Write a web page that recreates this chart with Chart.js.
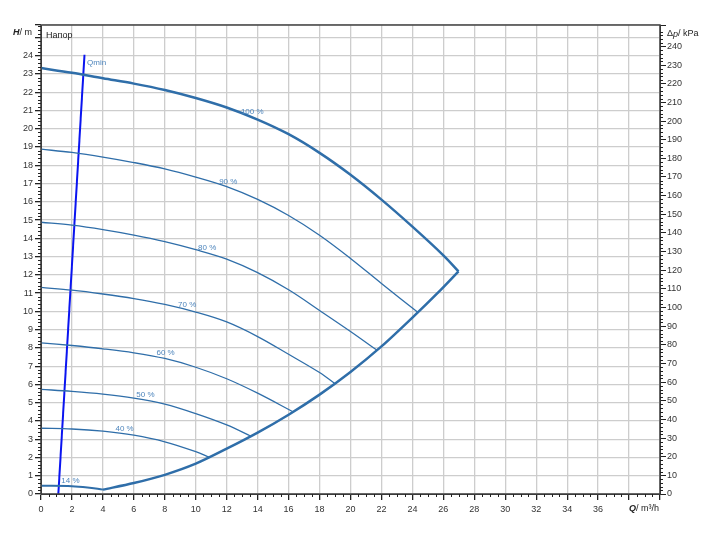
<!DOCTYPE html>
<html>
<head>
<meta charset="utf-8">
<script src="https://cdn.jsdelivr.net/npm/chart.js@4.4.0/dist/chart.umd.min.js"></script>
<style>
  body { margin: 0; background: #fff; }
  canvas { display: block; }
</style>
</head>
<body>
<canvas id="grafico" width="711" height="541"></canvas>
<script>
// curvas de velocidad (Q en m3/h, H en m)
const q100 = [0, 2, 4, 6, 8, 10, 12, 14, 16, 18, 20, 22, 24, 26, 26.98];
const h100 = [23.32, 23.06, 22.76, 22.47, 22.12, 21.68, 21.16, 20.5, 19.7, 18.68, 17.48, 16.12, 14.64, 13.07, 12.19];
const q90 = [0, 2, 4, 6, 8, 10, 12, 14, 16, 18, 20, 22, 24.39];
const h90 = [18.88, 18.7, 18.45, 18.15, 17.8, 17.35, 16.83, 16.13, 15.25, 14.17, 12.9, 11.53, 9.92];
const q80 = [0, 2, 4, 6, 8, 10, 12, 14, 16, 18, 20, 21.7];
const h80 = [14.88, 14.72, 14.48, 14.18, 13.82, 13.38, 12.86, 12.12, 11.18, 10.05, 8.9, 7.88];
const q70 = [0, 2, 4, 6, 8, 10, 12, 14, 16, 18, 19];
const h70 = [11.31, 11.16, 10.95, 10.7, 10.38, 9.96, 9.42, 8.62, 7.65, 6.65, 6.04];
const q60 = [0, 2, 4, 6, 8, 10, 12, 14, 16.31];
const h60 = [8.28, 8.13, 7.95, 7.73, 7.42, 6.94, 6.31, 5.52, 4.49];
const q50 = [0, 2, 4, 6, 8, 10, 12, 13.6];
const h50 = [5.73, 5.62, 5.47, 5.25, 4.92, 4.4, 3.78, 3.15];
const q40 = [0, 2, 4, 6, 8, 10, 10.9];
const h40 = [3.6, 3.56, 3.44, 3.22, 2.86, 2.32, 2.0];
const q14 = [0, 2, 3, 4];
const h14 = [0.45, 0.43, 0.36, 0.24];

// limite de caudal maximo
const qLim = [4, 6, 8, 10, 12, 14, 16, 18, 20, 22, 24, 25.8, 26.98];
const hLim = [0.24, 0.6, 1.05, 1.66, 2.48, 3.36, 4.34, 5.44, 6.68, 8.08, 9.66, 11.15, 12.19];

// Qmin
const qMin = [1.12, 2.81];
const hMin = [0, 24.05];

const etiquetas = ['100 %', '90 %', '80 %', '70 %', '60 %', '50 %', '40 %', '14 %'];
const qEtiqueta = [13.65, 12.1, 10.74, 9.45, 8.05, 6.75, 5.4, 1.9];

const colorCurva = '#2f6ea9';
const colorTexto = '#4f86bd';

function puntos(qs, hs) {
    return qs.map((q, i) => ({ x: q, y: hs[i] }));
}

function curva(qs, hs, ancho) {
    return {
        data: puntos(qs, hs),
        borderColor: colorCurva,
        borderWidth: ancho,
        pointRadius: 0,
        fill: false,
        tension: 0.35
    };
}

const datasets = [
    curva(q100, h100, 2.5),
    curva(q90, h90, 1.3),
    curva(q80, h80, 1.3),
    curva(q70, h70, 1.3),
    curva(q60, h60, 1.3),
    curva(q50, h50, 1.3),
    curva(q40, h40, 1.3),
    curva(q14, h14, 2),
    curva(qLim, hLim, 2.5),
    {
        data: puntos(qMin, hMin),
        borderColor: '#0a14f0',
        borderWidth: 2,
        pointRadius: 0,
        fill: false
    }
];
datasets[8].tension = 0.3;

function interpolar(qs, hs, q) {
    for (let i = 1; i < qs.length; i++) {
        if (q <= qs[i]) {
            let t = (q - qs[i - 1]) / (qs[i] - qs[i - 1]);
            return hs[i - 1] + t * (hs[i] - hs[i - 1]);
        }
    }
    return hs[hs.length - 1];
}

// textos, marco y marcas menores
const extras = {
    id: 'extras',
    afterDraw(chart) {
        const ctx = chart.ctx;
        const a = chart.chartArea;
        const sx = chart.scales.x, sy = chart.scales.y, sy2 = chart.scales.y2;

        ctx.save();
        ctx.strokeStyle = '#444';
        ctx.lineWidth = 1.5;
        ctx.strokeRect(a.left, a.top, a.right - a.left, a.bottom - a.top);

        // marcas menores
        ctx.strokeStyle = '#222';
        ctx.lineWidth = 1;
        ctx.beginPath();
        for (let v = 0; v <= 40.001; v += 0.5) {
            if (Math.abs(v / 2 - Math.round(v / 2)) < 0.01) continue;
            let px = Math.round(sx.getPixelForValue(v)) + 0.5;
            ctx.moveTo(px, a.bottom);
            ctx.lineTo(px, a.bottom + 3);
        }
        for (let v = 0; v <= 25.6; v += 0.2) {
            if (Math.abs(v - Math.round(v)) < 0.01) continue;
            let py = Math.round(sy.getPixelForValue(v)) + 0.5;
            ctx.moveTo(a.left - 3, py);
            ctx.lineTo(a.left, py);
        }
        for (let v = 0; v <= 251; v += 2) {
            if (v % 10 === 0) continue;
            let py = Math.round(sy2.getPixelForValue(v)) + 0.5;
            ctx.moveTo(a.right, py);
            ctx.lineTo(a.right + 3, py);
        }
        ctx.stroke();

        // etiquetas de curvas
        const series = [[q100, h100], [q90, h90], [q80, h80], [q70, h70], [q60, h60], [q50, h50], [q40, h40], [q14, h14]];
        ctx.font = '8px "Liberation Sans", Arial, sans-serif';
        ctx.fillStyle = colorTexto;
        ctx.textAlign = 'center';
        ctx.textBaseline = 'middle';
        series.forEach((s, i) => {
            let q = qEtiqueta[i];
            let h = interpolar(s[0], s[1], q);
            ctx.fillText(etiquetas[i], sx.getPixelForValue(q), sy.getPixelForValue(h) - 5.5);
        });
        ctx.textAlign = 'left';
        ctx.fillText('Qmin', sx.getPixelForValue(2.98), sy.getPixelForValue(23.6));

        // titulos de ejes
        ctx.fillStyle = '#222';
        ctx.font = '9px "Liberation Sans", Arial, sans-serif';
        ctx.fillText('Напор', a.left + 5, 36);

        ctx.textAlign = 'left';
        ctx.font = 'bold italic 9px "Liberation Sans", Arial, sans-serif';
        ctx.fillText('H', 13, 33);
        let w = ctx.measureText('H').width;
        ctx.font = '9px "Liberation Sans", Arial, sans-serif';
        ctx.fillText('/ m', 13 + w, 33);

        ctx.font = '9px "Liberation Sans", Arial, sans-serif';
        ctx.fillText('Δ', 667, 34);
        w = ctx.measureText('Δ').width;
        ctx.font = 'italic 9px "Liberation Sans", Arial, sans-serif';
        ctx.fillText('p', 667 + w, 34);
        w += ctx.measureText('p').width;
        ctx.font = '9px "Liberation Sans", Arial, sans-serif';
        ctx.fillText('/ kPa', 667 + w, 34);

        ctx.font = 'bold italic 9px "Liberation Sans", Arial, sans-serif';
        ctx.fillText('Q', 629, 509);
        w = ctx.measureText('Q').width;
        ctx.font = '9px "Liberation Sans", Arial, sans-serif';
        ctx.fillText('/ m³/h', 629 + w, 509);
        ctx.restore();
    }
};

const fuente = { family: '"Liberation Sans", Arial, sans-serif', size: 9 };

new Chart(document.getElementById('grafico').getContext('2d'), {
    type: 'line',
    data: { datasets: datasets },
    plugins: [extras],
    options: {
        responsive: false,
        animation: false,
        layout: { padding: { top: 25, left: 0, right: 0, bottom: 0 } },
        plugins: { legend: { display: false }, tooltip: { enabled: false } },
        scales: {
            x: {
                type: 'linear',
                min: 0,
                max: 40,
                ticks: {
                    stepSize: 2,
                    padding: 4,
                    color: '#333',
                    font: fuente,
                    maxRotation: 0,
                    callback: v => v <= 36 ? v : ''
                },
                grid: { color: '#cdcdcd', lineWidth: 1.3, tickLength: 6, tickColor: '#222' },
                border: { color: '#222' },
                afterFit: s => { s.height = 47; }
            },
            y: {
                type: 'linear',
                position: 'left',
                min: 0,
                max: 25.68,
                ticks: {
                    stepSize: 1,
                    padding: 2,
                    color: '#333',
                    font: fuente,
                    callback: v => v <= 24 ? v : ''
                },
                grid: { color: '#cdcdcd', lineWidth: 1.3, tickLength: 6, tickColor: '#222' },
                border: { color: '#222' },
                afterFit: s => { s.width = 41; }
            },
            y2: {
                type: 'linear',
                position: 'right',
                min: 0,
                max: 251.5,
                ticks: {
                    stepSize: 10,
                    padding: 1,
                    color: '#333',
                    font: fuente,
                    callback: v => v <= 240 ? v : ''
                },
                grid: { drawOnChartArea: false, tickLength: 6, tickColor: '#222' },
                border: { color: '#222' },
                afterFit: s => { s.width = 51; }
            }
        }
    }
});
</script>
</body>
</html>
